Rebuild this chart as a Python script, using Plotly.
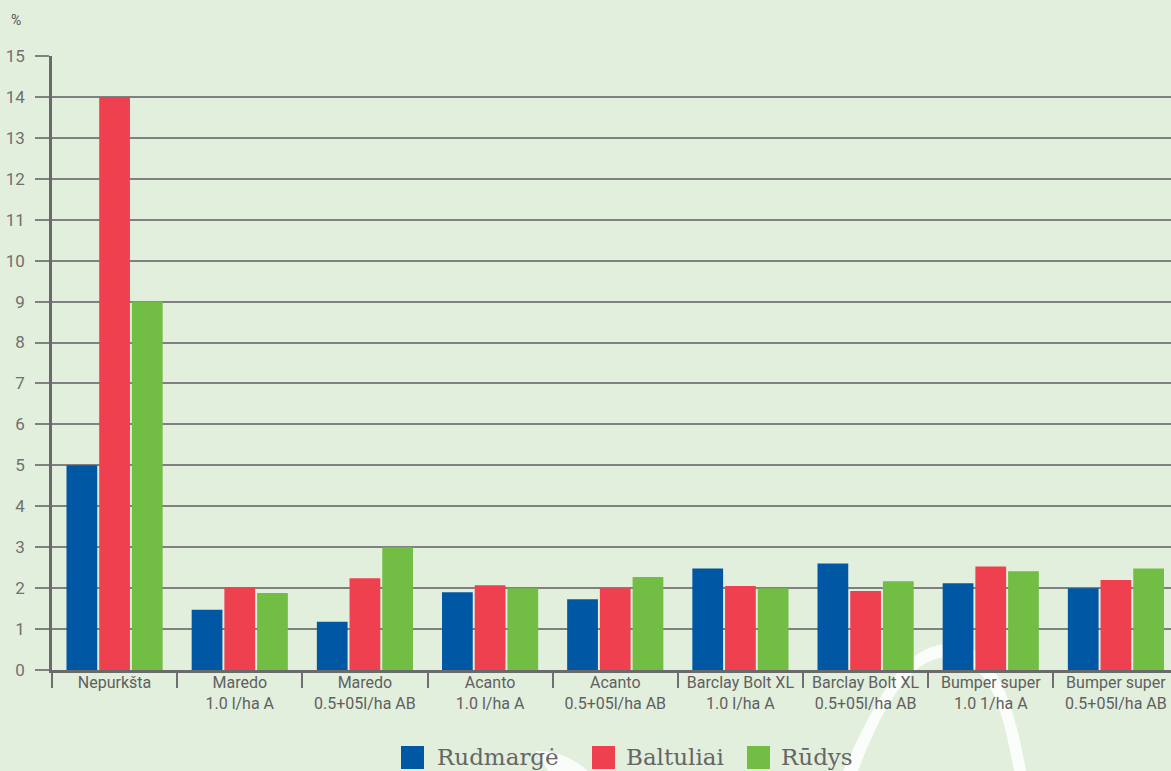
import plotly.graph_objects as go

categories = [
    "Nepurkšta",
    "Maredo<br>1.0 l/ha A",
    "Maredo<br>0.5+05l/ha AB",
    "Acanto<br>1.0 l/ha A",
    "Acanto<br>0.5+05l/ha AB",
    "Barclay Bolt XL<br>1.0 l/ha A",
    "Barclay Bolt XL<br>0.5+05l/ha AB",
    "Bumper super<br>1.0 1/ha A",
    "Bumper super<br>0.5+05l/ha AB",
]
series_names = ["Rudmargė", "Baltuliai", "Rūdys"]
rudmarge = [5.0, 1.47, 1.18, 1.9, 1.73, 2.48, 2.6, 2.12, 2.0]
baltuliai = [14.0, 2.02, 2.24, 2.07, 2.0, 2.05, 1.93, 2.53, 2.2]
rudys = [9.0, 1.88, 3.0, 2.0, 2.27, 2.0, 2.17, 2.41, 2.48]
y_ticks = list(range(0, 16))

colors = ["#0057A4", "#EF4050", "#72BD43"]
values = [rudmarge, baltuliai, rudys]

W, H = 1171, 771
pl, pt, pb = 52, 56, 101
pw, ph = W - pl, H - pt - pb


def px(x):
    return (x - pl) / pw


def py(y):
    return (H - pb - y) / ph


fig = go.Figure()
for name, vals, col in zip(series_names, values, colors):
    fig.add_trace(go.Bar(x=categories, y=vals, name=name, marker_color=col,
                         marker_line_width=0, showlegend=False))

grid = "#808080"
fig.update_layout(
    width=W, height=H,
    margin=dict(l=pl, r=0, t=pt, b=pb),
    paper_bgcolor="#E2EFDC", plot_bgcolor="rgba(0,0,0,0)",
    barmode="group", bargap=0.216, bargroupgap=0.06,
    font=dict(family="Roboto", color="#666666"),
    xaxis=dict(range=[-0.5, 8.44], showgrid=False, showline=True, linecolor="#6a6a6a",
               linewidth=3, ticks="outside", tickson="boundaries", ticklen=15,
               tickcolor="#707070", tickwidth=2, tickfont=dict(size=16, color="#606060"),
               ticklabelstandoff=-4),
    yaxis=dict(range=[0, 15], tickvals=y_ticks, showgrid=True, gridcolor=grid, gridwidth=2,
               showline=True, linecolor="#6a6a6a", linewidth=2.5, ticks="outside",
               ticklen=14, tickcolor=grid, tickwidth=2, zeroline=False,
               tickfont=dict(size=17, color="#707070"), ticklabelstandoff=7),
)


def path(pts):
    return pts


# decorative white swooshes in the background
def P(x, y):
    return f"{px(x):.5f},{py(y):.5f}"


arch = (f"M {P(843,771)} C {P(880,690)} {P(905,648)} {P(945,644)} "
        f"C {P(990,641)} {P(1012,690)} {P(1026,771)} L {P(1014,771)} "
        f"C {P(1002,700)} {P(985,657)} {P(945,657)} "
        f"C {P(912,660)} {P(885,700)} {P(858,771)} Z")
fig.add_shape(type="path", xref="paper", yref="paper", path=arch, fillcolor="white",
              opacity=0.85, line_width=0, layer="below")
small = (f"M {P(535,751)} Q {P(565,750)} {P(588,771)} L {P(548,771)} "
         f"Q {P(542,760)} {P(535,751)} Z")
fig.add_shape(type="path", xref="paper", yref="paper", path=small, fillcolor="white",
              opacity=0.8, line_width=0, layer="below")

fig.add_annotation(x=px(16), y=py(20), xref="paper", yref="paper", text="%",
                   showarrow=False, xanchor="center", yanchor="middle",
                   font=dict(size=14, color="#555555"))

# manual legend
leg = [(401, 435), (592, 624), (747, 779)]
for (sx, tx), name, col in zip(leg, series_names, colors):
    fig.add_shape(type="rect", xref="paper", yref="paper", x0=px(sx), x1=px(sx + 23),
                  y0=py(746), y1=py(769), fillcolor=col, line_width=0)
    fig.add_annotation(x=px(tx), y=py(757), xref="paper", yref="paper", text=name,
                       showarrow=False, xanchor="left", yanchor="middle",
                       font=dict(family="DejaVu Serif", size=23, color="#666666"))

fig.write_html("out.html")
